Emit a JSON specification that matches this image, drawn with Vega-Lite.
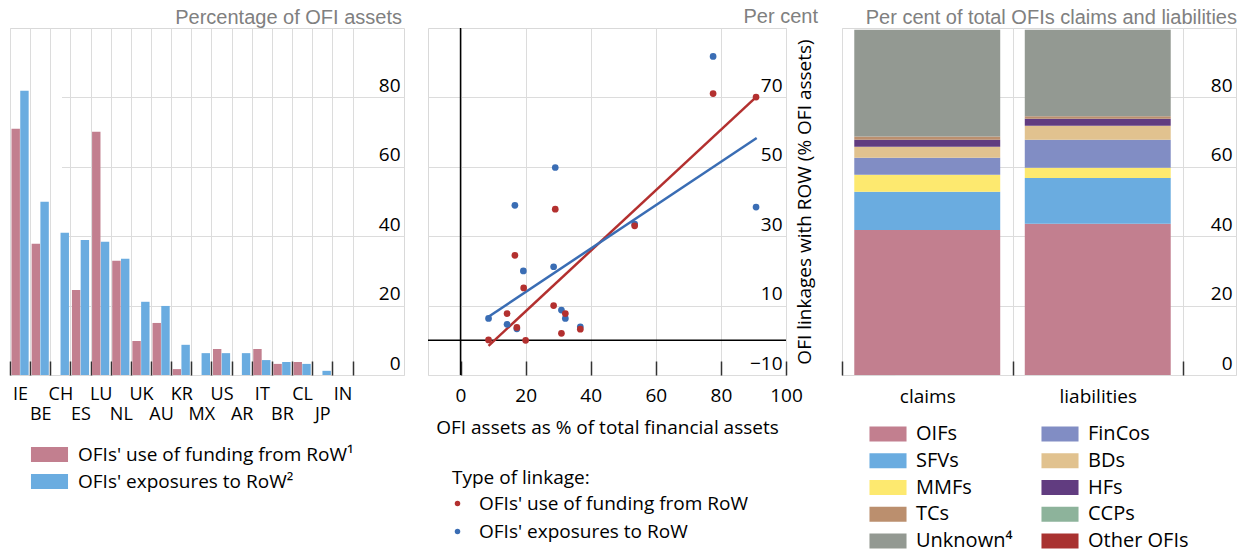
{
  "$schema": "https://vega.github.io/schema/vega-lite/v6.json",
  "background": "white",
  "padding": {"left": 8, "top": 6, "right": 0, "bottom": 0},
  "spacing": 21,
  "config": {
    "font": "Open Sans",
    "view": {"stroke": "#d9d9d9", "strokeWidth": 1},
    "axis": {"labelFont": "Open Sans", "titleFont": "Open Sans", "labelColor": "#000000", "titleColor": "#000000", "titleFontWeight": "normal", "gridColor": "#dcdcdc", "gridWidth": 1, "domain": false, "tickColor": "#333333"},
    "legend": {"labelFont": "Open Sans", "titleFont": "Open Sans", "labelColor": "#000000", "titleColor": "#000000", "titleFontWeight": "normal", "padding": 0, "labelLimit": 0},
    "title": {"font": "Liberation Sans", "fontSize": 20, "fontWeight": "normal", "color": "#808080", "anchor": "end", "baseline": "alphabetic", "offset": 0}
  },
  "datasets": {
    "bars": [
      {"country": "IE", "series": "OFIs' use of funding from RoW¹", "value": 71.0},
      {"country": "IE", "series": "OFIs' exposures to RoW²", "value": 81.9},
      {"country": "BE", "series": "OFIs' use of funding from RoW¹", "value": 37.8},
      {"country": "BE", "series": "OFIs' exposures to RoW²", "value": 49.9},
      {"country": "CH", "series": "OFIs' use of funding from RoW¹", "value": 0},
      {"country": "CH", "series": "OFIs' exposures to RoW²", "value": 41.0},
      {"country": "ES", "series": "OFIs' use of funding from RoW¹", "value": 24.5},
      {"country": "ES", "series": "OFIs' exposures to RoW²", "value": 38.9},
      {"country": "LU", "series": "OFIs' use of funding from RoW¹", "value": 70.1},
      {"country": "LU", "series": "OFIs' exposures to RoW²", "value": 38.4},
      {"country": "NL", "series": "OFIs' use of funding from RoW¹", "value": 32.9},
      {"country": "NL", "series": "OFIs' exposures to RoW²", "value": 33.5},
      {"country": "UK", "series": "OFIs' use of funding from RoW¹", "value": 9.8},
      {"country": "UK", "series": "OFIs' exposures to RoW²", "value": 21.1},
      {"country": "AU", "series": "OFIs' use of funding from RoW¹", "value": 15.0},
      {"country": "AU", "series": "OFIs' exposures to RoW²", "value": 19.9},
      {"country": "KR", "series": "OFIs' use of funding from RoW¹", "value": 1.7},
      {"country": "KR", "series": "OFIs' exposures to RoW²", "value": 8.7},
      {"country": "MX", "series": "OFIs' use of funding from RoW¹", "value": 0},
      {"country": "MX", "series": "OFIs' exposures to RoW²", "value": 6.3},
      {"country": "US", "series": "OFIs' use of funding from RoW¹", "value": 7.5},
      {"country": "US", "series": "OFIs' exposures to RoW²", "value": 6.3},
      {"country": "AR", "series": "OFIs' use of funding from RoW¹", "value": 0},
      {"country": "AR", "series": "OFIs' exposures to RoW²", "value": 6.3},
      {"country": "IT", "series": "OFIs' use of funding from RoW¹", "value": 7.5},
      {"country": "IT", "series": "OFIs' exposures to RoW²", "value": 4.3},
      {"country": "BR", "series": "OFIs' use of funding from RoW¹", "value": 3.2},
      {"country": "BR", "series": "OFIs' exposures to RoW²", "value": 3.75},
      {"country": "CL", "series": "OFIs' use of funding from RoW¹", "value": 3.75},
      {"country": "CL", "series": "OFIs' exposures to RoW²", "value": 3.2},
      {"country": "JP", "series": "OFIs' use of funding from RoW¹", "value": 0},
      {"country": "JP", "series": "OFIs' exposures to RoW²", "value": 1.2},
      {"country": "IN", "series": "OFIs' use of funding from RoW¹", "value": 0},
      {"country": "IN", "series": "OFIs' exposures to RoW²", "value": 0}
    ],
    "points": [
      {"series": "OFIs' exposures to RoW", "x": 77.6, "y": 81.8},
      {"series": "OFIs' exposures to RoW", "x": 90.8, "y": 38.4},
      {"series": "OFIs' exposures to RoW", "x": 29.1, "y": 49.8},
      {"series": "OFIs' exposures to RoW", "x": 16.7, "y": 38.9},
      {"series": "OFIs' exposures to RoW", "x": 28.6, "y": 21.2},
      {"series": "OFIs' exposures to RoW", "x": 19.3, "y": 20.0},
      {"series": "OFIs' exposures to RoW", "x": 53.5, "y": 33.5},
      {"series": "OFIs' exposures to RoW", "x": 8.6, "y": 6.3},
      {"series": "OFIs' exposures to RoW", "x": 14.3, "y": 4.6},
      {"series": "OFIs' exposures to RoW", "x": 17.3, "y": 3.3},
      {"series": "OFIs' exposures to RoW", "x": 31.0, "y": 8.7},
      {"series": "OFIs' exposures to RoW", "x": 32.2, "y": 6.3},
      {"series": "OFIs' exposures to RoW", "x": 36.8, "y": 3.9},
      {"series": "OFIs' use of funding from RoW", "x": 77.6, "y": 71.1},
      {"series": "OFIs' use of funding from RoW", "x": 90.8, "y": 70.1},
      {"series": "OFIs' use of funding from RoW", "x": 29.1, "y": 37.8},
      {"series": "OFIs' use of funding from RoW", "x": 16.7, "y": 24.5},
      {"series": "OFIs' use of funding from RoW", "x": 19.4, "y": 15.1},
      {"series": "OFIs' use of funding from RoW", "x": 28.6, "y": 10.0},
      {"series": "OFIs' use of funding from RoW", "x": 53.5, "y": 33.0},
      {"series": "OFIs' use of funding from RoW", "x": 8.6, "y": 0.1},
      {"series": "OFIs' use of funding from RoW", "x": 14.3, "y": 7.7},
      {"series": "OFIs' use of funding from RoW", "x": 17.3, "y": 3.7},
      {"series": "OFIs' use of funding from RoW", "x": 32.2, "y": 7.7},
      {"series": "OFIs' use of funding from RoW", "x": 31.0, "y": 2.0},
      {"series": "OFIs' use of funding from RoW", "x": 20.0, "y": 0.0},
      {"series": "OFIs' use of funding from RoW", "x": 36.8, "y": 3.2}
    ],
    "lines": [
      {"series": "OFIs' use of funding from RoW", "x": 8.6, "y": -1.6},
      {"series": "OFIs' use of funding from RoW", "x": 90.8, "y": 70.1},
      {"series": "OFIs' exposures to RoW", "x": 8.6, "y": 6.8},
      {"series": "OFIs' exposures to RoW", "x": 91.0, "y": 58.3}
    ],
    "stack": [
      {"side": "claims", "cat": "OIFs", "ord": 1, "value": 41.8},
      {"side": "claims", "cat": "SFVs", "ord": 2, "value": 11.0},
      {"side": "claims", "cat": "MMFs", "ord": 3, "value": 4.9},
      {"side": "claims", "cat": "FinCos", "ord": 4, "value": 4.9},
      {"side": "claims", "cat": "BDs", "ord": 5, "value": 3.2},
      {"side": "claims", "cat": "HFs", "ord": 6, "value": 2.0},
      {"side": "claims", "cat": "TCs", "ord": 7, "value": 0.95},
      {"side": "claims", "cat": "CCPs", "ord": 8, "value": 0},
      {"side": "claims", "cat": "Other OFIs", "ord": 9, "value": 0},
      {"side": "claims", "cat": "Unknown⁴", "ord": 10, "value": 30.75},
      {"side": "liabilities", "cat": "OIFs", "ord": 1, "value": 43.6},
      {"side": "liabilities", "cat": "SFVs", "ord": 2, "value": 13.2},
      {"side": "liabilities", "cat": "MMFs", "ord": 3, "value": 2.9},
      {"side": "liabilities", "cat": "FinCos", "ord": 4, "value": 8.1},
      {"side": "liabilities", "cat": "BDs", "ord": 5, "value": 4.0},
      {"side": "liabilities", "cat": "HFs", "ord": 6, "value": 2.05},
      {"side": "liabilities", "cat": "TCs", "ord": 7, "value": 0.75},
      {"side": "liabilities", "cat": "CCPs", "ord": 8, "value": 0},
      {"side": "liabilities", "cat": "Other OFIs", "ord": 9, "value": 0},
      {"side": "liabilities", "cat": "Unknown⁴", "ord": 10, "value": 24.9}
    ]
  },
  "hconcat": [
    {
      "width": 394,
      "height": 347,
      "title": {"text": "Percentage of OFI assets", "dx": -2, "offset": 0},
      "data": {"name": "bars"},
      "mark": {"type": "bar"},
      "encoding": {
        "x": {
          "field": "country", "type": "nominal", "sort": null,
          "scale": {"range": [0, 342.5], "paddingInner": 0, "paddingOuter": 0},
          "axis": {"title": null, "grid": true, "tickBand": "extent", "ticks": true, "tickSize": -14, "tickWidth": 1.5, "labelAngle": 0, "labelFontSize": 18, "labelPadding": 24, "labelBaseline": "top", "labelLineHeight": 20, "labelOverlap": false,
            "labelExpr": "indexof(['BE','ES','NL','AU','MX','AR','BR','JP'], datum.label) >= 0 ? ['', datum.label] : datum.label"}
        },
        "xOffset": {"field": "series", "type": "nominal", "sort": ["OFIs' use of funding from RoW¹", "OFIs' exposures to RoW²"], "scale": {"paddingInner": 0.04, "paddingOuter": 0.17}},
        "y": {
          "field": "value", "type": "quantitative",
          "scale": {"domain": [0, 100], "nice": false},
          "axis": {"orient": "right", "values": [0, 20, 40, 60, 80], "title": null, "ticks": false, "grid": true, "labelAlign": "right", "labelPadding": -4, "labelBaseline": "alphabetic", "labelOffset": -6, "labelFontSize": 19, "labelFlush": false}
        },
        "color": {
          "field": "series", "type": "nominal",
          "scale": {"domain": ["OFIs' use of funding from RoW¹", "OFIs' exposures to RoW²"], "range": ["#c27f8f", "#6aace0"]},
          "legend": {"orient": "none", "legendX": 30, "legendY": 417, "title": null, "symbolType": "M-2.47,-1H2.47V1H-2.47Z", "symbolSize": 225, "symbolStrokeWidth": 0, "symbolOpacity": 1, "labelFontSize": 19, "labelOffset": 19, "rowPadding": 7}
        }
      }
    },
    {
      "width": 358,
      "height": 347,
      "title": {"text": "Per cent", "dx": 4, "offset": 0},
      "layer": [
        {
          "data": {"values": [{}]},
          "mark": {"type": "rule", "color": "#000000", "strokeWidth": 1.5},
          "encoding": {"y": {"datum": 0, "type": "quantitative"}}
        },
        {
          "data": {"values": [{}]},
          "mark": {"type": "rule", "color": "#000000", "strokeWidth": 1.5},
          "encoding": {"x": {"datum": 0, "type": "quantitative"}}
        },
        {
          "data": {"name": "lines"},
          "mark": {"type": "line", "strokeWidth": 2.5},
          "encoding": {
            "x": {"field": "x", "type": "quantitative"},
            "y": {"field": "y", "type": "quantitative"},
            "stroke": {"field": "series", "type": "nominal", "scale": {"domain": ["OFIs' use of funding from RoW", "OFIs' exposures to RoW"], "range": ["#b3302f", "#3a6db4"]}, "legend": null}
          }
        },
        {
          "data": {"name": "points"},
          "mark": {"type": "point", "filled": true, "size": 45, "opacity": 1},
          "encoding": {
            "x": {
              "field": "x", "type": "quantitative",
              "scale": {"domain": [-10, 100], "nice": false, "zero": false},
              "axis": {"title": "OFI assets as % of total financial assets", "values": [0, 20, 40, 60, 80, 100], "grid": true, "tickSize": -14, "tickWidth": 1.5, "labelFontSize": 19, "labelPadding": 25, "labelBaseline": "top", "labelFlush": false, "titleFontSize": 19, "titlePadding": 13.5}
            },
            "y": {
              "field": "y", "type": "quantitative",
              "scale": {"domain": [-10, 90], "nice": false, "zero": false},
              "axis": {"orient": "right", "title": "OFI linkages with ROW (% OFI assets)", "values": [-10, 10, 30, 50, 70], "ticks": false, "grid": true, "labelAlign": "right", "labelPadding": -4, "labelBaseline": "alphabetic", "labelOffset": -6, "labelFontSize": 19, "labelFlush": false, "titleAngle": 270, "titleBaseline": "top", "titleFontSize": 19, "titlePadding": 9}
            },
            "color": {
              "field": "series", "type": "nominal",
              "scale": {"domain": ["OFIs' use of funding from RoW", "OFIs' exposures to RoW"], "range": ["#b3302f", "#3a6db4"]},
              "legend": {"orient": "none", "legendX": 24, "legendY": 441, "title": "Type of linkage:", "titleFontSize": 19, "titlePadding": 6, "symbolType": "circle", "symbolSize": 30, "symbolOffset": -4, "labelFontSize": 19, "labelOffset": 12, "rowPadding": 8}
            }
          }
        }
      ]
    },
    {
      "width": 394,
      "height": 347,
      "title": {"text": "Per cent of total OFIs claims and liabilities", "dx": 1, "offset": 0},
      "data": {"name": "stack"},
      "mark": {"type": "bar", "width": {"band": 0.856}},
      "encoding": {
        "x": {
          "field": "side", "type": "nominal", "sort": null,
          "scale": {"range": [0, 341], "paddingInner": 0, "paddingOuter": 0},
          "axis": {"title": null, "grid": true, "tickBand": "extent", "ticks": true, "tickSize": -14, "tickWidth": 1.5, "labelAngle": 0, "labelFontSize": 19, "labelPadding": 26, "labelBaseline": "top"}
        },
        "y": {
          "field": "value", "type": "quantitative", "stack": "zero",
          "scale": {"domain": [0, 100], "nice": false},
          "axis": {"orient": "right", "values": [0, 20, 40, 60, 80], "title": null, "ticks": false, "grid": true, "labelAlign": "right", "labelPadding": -4, "labelBaseline": "alphabetic", "labelOffset": -6, "labelFontSize": 19, "labelFlush": false}
        },
        "color": {
          "field": "cat", "type": "nominal",
          "scale": {
            "domain": ["OIFs", "SFVs", "MMFs", "TCs", "Unknown⁴", "FinCos", "BDs", "HFs", "CCPs", "Other OFIs"],
            "range": ["#c27f8f", "#6aace0", "#fde96f", "#bb8f6e", "#939992", "#818dc4", "#e1c28f", "#613c80", "#8db39b", "#a93230"]
          },
          "legend": {"orient": "none", "legendX": 36, "legendY": 396, "title": null, "columns": 2, "columnPadding": 28, "symbolType": "M-2.47,-1H2.47V1H-2.47Z", "symbolSize": 225, "symbolStrokeWidth": 0, "symbolOpacity": 1, "labelFontSize": 20, "labelOffset": 18, "rowPadding": 6.75}
        },
        "order": {"field": "ord", "type": "quantitative"}
      }
    }
  ],
  "resolve": {"scale": {"color": "independent", "x": "independent", "y": "independent"}, "legend": {"color": "independent"}}
}
